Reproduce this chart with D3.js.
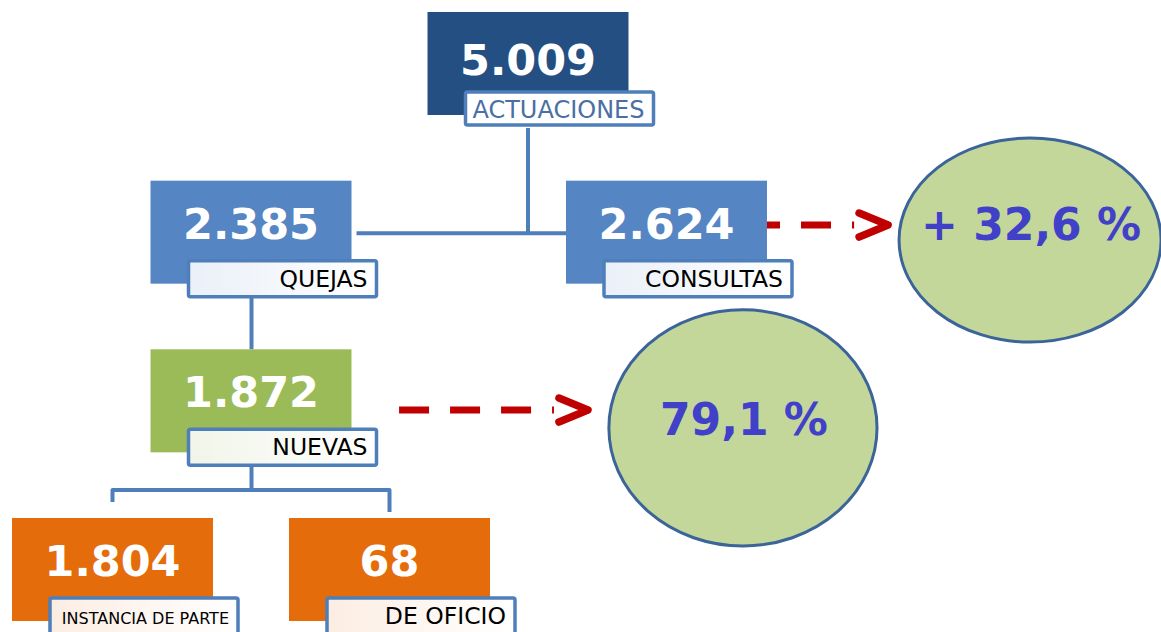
<!DOCTYPE html>
<html>
<head>
<meta charset="utf-8">
<script src="https://cdn.jsdelivr.net/npm/d3@7"></script>
<style>
  body { margin: 0; background: #fff; }
  svg { display: block; }
</style>
</head>
<body>
<div id="chart"></div>
<script>
// Tree data: one entry per box
const nodeNames = ["ACTUACIONES", "QUEJAS", "CONSULTAS", "NUEVAS", "INSTANCIA DE PARTE", "DE OFICIO"];
const nodeValues = [5009, 2385, 2624, 1872, 1804, 68];
const nodeParents = [null, 0, 0, 1, 3, 3];

// Percent bubbles and the box they are pointed from
const bubbleLabels = ["+ 32,6 %", "79,1 %"];
const bubbleSources = [2, 3];

// Layout in grid units (column, level), mapped to pixels by the scales below
const nodeLevel = [0, 1, 1, 2, 3, 3];
const nodeCol = [3, 1, 4, 1, 0, 2];
const bubbleCol = [6.625, 4.552];
const bubbleLevel = [1.352, 2.466];
const bubbleRx = [0.946, 0.968];
const bubbleRy = [0.605, 0.700];
const arrowFrom = [4.603, 2.069];
const arrowTo = [5.600, 3.433];
const arrowLevel = [1.263, 2.360];

const W = 1161, H = 632;
const boxW = 201, boxH = 103;
const labW = 188, labH = 36, labDx = 38, labDy = 80;

const fills = ["#244f82", "#5585c2", "#5585c2", "#9bbb59", "#e46c0a", "#e46c0a"];
const tints = ["#ffffff", "#eaf0f8", "#eaf0f8", "#f1f5e8", "#fcede2", "#fcede2"];
const labelColors = ["#4a6fa5", "#000", "#000", "#000", "#000", "#000"];
const labelSizes = [24, 23.5, 23.5, 23.5, 16, 23.5];
const lineColor = "#4f7fba";

const x = d3.scaleLinear().domain([0, 4]).range([112.5, 666.5]);
const y = d3.scaleLinear().domain([0, 3]).range([12, 518]);
const fmt = d3.formatLocale({ decimal: ",", thousands: ".", grouping: [3], currency: ["", ""] }).format(",d");

const nodes = nodeNames.map((name, i) => ({
    i, name, value: nodeValues[i], parent: nodeParents[i],
    cx: x(nodeCol[i]), top: y(nodeLevel[i])
}));

const svg = d3.select("#chart").append("svg")
    .attr("width", W)
    .attr("height", H);

const defs = svg.append("defs");
nodes.forEach(d => {
    const g = defs.append("linearGradient").attr("id", "lab-" + d.i);
    g.append("stop").attr("offset", "0%").attr("stop-color", tints[d.i]);
    g.append("stop").attr("offset", "100%").attr("stop-color", "#ffffff");
});

// Connectors
const links = svg.append("g")
    .attr("fill", "none")
    .attr("stroke", lineColor)
    .attr("stroke-width", 4);

const labelBottom = d => d.top + labDy + labH;
const root = nodes[0], quejas = nodes[1], consultas = nodes[2], nuevas = nodes[3];

// root -> quejas / consultas (side connector)
const midY = quejas.top + boxH / 2 + 1;
links.append("path")
    .attr("d", `M${root.cx},${labelBottom(root)}V${midY}`);
links.append("path")
    .attr("d", `M${quejas.cx + boxW / 2 + 5},${midY}H${consultas.cx - boxW / 2}`);

// quejas -> nuevas (straight)
links.append("path")
    .attr("d", `M${quejas.cx + 0.5},${labelBottom(quejas)}V${nuevas.top}`);

// nuevas -> children (bracket)
const kids = nodes.filter(d => d.parent === 3);
const brY = 490;
links.append("path")
    .attr("d", `M${nuevas.cx + 0.5},${labelBottom(nuevas)}V${brY}`);
links.append("path")
    .attr("d", `M${kids[0].cx},${brY + 12}V${brY}H${kids[1].cx}V${brY + 22}`)
    .attr("stroke-linejoin", "round");

// Dashed arrows (drawn before boxes so the first can start behind its box)
const arrows = svg.append("g");
bubbleSources.forEach((s, k) => {
    const x0 = x(arrowFrom[k]), x1 = x(arrowTo[k]), ay = y(arrowLevel[k]);
    arrows.append("line")
        .attr("x1", x0).attr("x2", x1 - 34)
        .attr("y1", ay).attr("y2", ay)
        .attr("stroke", "#c00000")
        .attr("stroke-width", 7)
        .attr("stroke-dasharray", "30 21");
    arrows.append("path")
        .attr("d", `M${x1 - 29},${ay - 12}L${x1},${ay}L${x1 - 29},${ay + 12}`)
        .attr("fill", "none")
        .attr("stroke", "#c00000")
        .attr("stroke-width", 7.5)
        .attr("stroke-linecap", "round")
        .attr("stroke-linejoin", "round");
});

// Boxes
const boxes = svg.selectAll(".node")
    .data(nodes)
    .enter()
    .append("g")
    .attr("class", "node");

boxes.append("rect")
    .attr("x", d => d.cx - boxW / 2)
    .attr("y", d => d.top)
    .attr("width", boxW)
    .attr("height", boxH)
    .attr("fill", d => fills[d.i]);

boxes.append("text")
    .attr("x", d => d.cx)
    .attr("y", d => d.top + (d.i === 0 ? 63 : 58))
    .attr("text-anchor", "middle")
    .attr("font-family", "DejaVu Sans, Verdana, sans-serif")
    .attr("font-weight", "bold")
    .attr("font-size", 43)
    .attr("fill", "#fff")
    .text(d => fmt(d.value));

boxes.append("rect")
    .attr("x", d => d.cx - boxW / 2 + labDx)
    .attr("y", d => d.top + labDy)
    .attr("width", labW)
    .attr("height", d => d.i === 0 ? 33 : labH)
    .attr("rx", 2)
    .attr("fill", d => `url(#lab-${d.i})`)
    .attr("stroke", lineColor)
    .attr("stroke-width", 3.5);

boxes.append("text")
    .attr("x", d => d.cx - boxW / 2 + labDx + labW - 9)
    .attr("y", d => d.top + labDy + 26)
    .attr("text-anchor", "end")
    .attr("font-family", "DejaVu Sans, Verdana, sans-serif")
    .attr("font-size", d => labelSizes[d.i])
    .attr("fill", d => labelColors[d.i])
    .text(d => d.name);

// Percent bubbles
const bubbles = svg.selectAll(".bubble")
    .data(bubbleLabels)
    .enter()
    .append("g")
    .attr("class", "bubble");

bubbles.append("ellipse")
    .attr("cx", (d, k) => x(bubbleCol[k]))
    .attr("cy", (d, k) => y(bubbleLevel[k]))
    .attr("rx", (d, k) => x(bubbleRx[k]) - x(0))
    .attr("ry", (d, k) => y(bubbleRy[k]) - y(0))
    .attr("fill", "#c4d79b")
    .attr("stroke", "#3b6499")
    .attr("stroke-width", 3);

bubbles.append("text")
    .attr("x", (d, k) => x(bubbleCol[k]) + 1)
    .attr("y", (d, k) => y(bubbleLevel[k]) + (k === 0 ? 0 : 7))
    .attr("text-anchor", "middle")
    .attr("font-family", "DejaVu Sans, Verdana, sans-serif")
    .attr("font-weight", "bold")
    .attr("font-size", 44)
    .attr("fill", "#4040c8")
    .text(d => d);
</script>
</body>
</html>
